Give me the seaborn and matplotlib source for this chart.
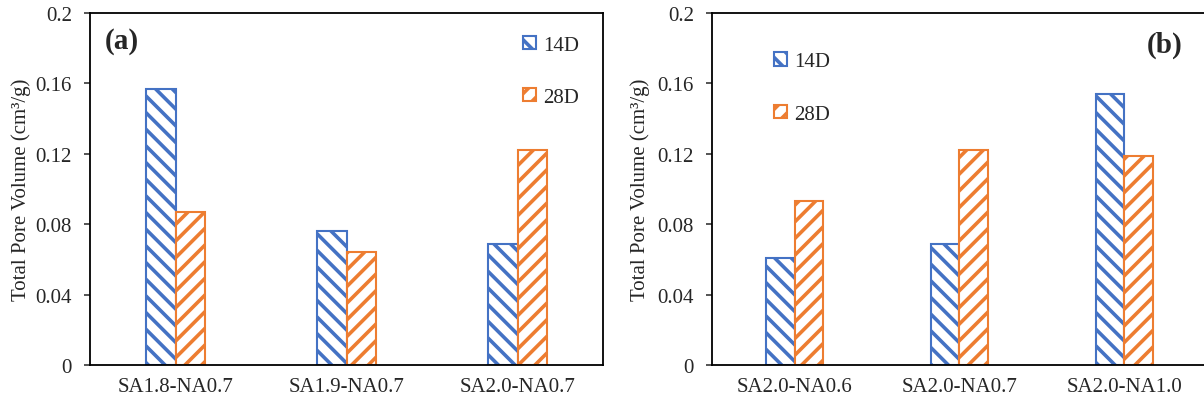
import matplotlib
matplotlib.use("Agg")
import matplotlib.pyplot as plt
import seaborn as sns
import pandas as pd

# ---- data ----
samples_a = ["SA1.8-NA0.7", "SA1.9-NA0.7", "SA2.0-NA0.7"]
d14_a = [0.157, 0.076, 0.069]
d28_a = [0.087, 0.064, 0.122]

samples_b = ["SA2.0-NA0.6", "SA2.0-NA0.7", "SA2.0-NA1.0"]
d14_b = [0.061, 0.069, 0.154]
d28_b = [0.093, 0.122, 0.119]

ages = ["14D", "28D"]
yticks = [0, 0.04, 0.08, 0.12, 0.16, 0.2]
ytick_labels = ["0", "0.04", "0.08", "0.12", "0.16", "0.2"]

BLUE = "#4472C4"
ORANGE = "#ED7D31"

sns.set_theme(style="white")
plt.rcParams["font.family"] = ["Liberation Serif", "DejaVu Serif"]
plt.rcParams["hatch.linewidth"] = 2.6


def make_df(samples, v14, v28):
    rows = []
    for s, a, b in zip(samples, v14, v28):
        rows.append({"sample": s, "age": ages[0], "value": a})
        rows.append({"sample": s, "age": ages[1], "value": b})
    return pd.DataFrame(rows)


fig = plt.figure(figsize=(12.04, 4.06), dpi=100)
ax_a = fig.add_axes([90 / 1204, 1 - 366 / 406, 513 / 1204, 352 / 406])
ax_b = fig.add_axes([712 / 1204, 1 - 366 / 406, 495 / 1204, 352 / 406])

panels = [
    (ax_a, make_df(samples_a, d14_a, d28_a), "(a)", (0.029, 0.923), (0.845, 0.935), -0.115),
    (ax_b, make_df(samples_b, d14_b, d28_b), "(b)", (0.879, 0.912), (0.126, 0.888), -0.125),
]

for ax, df, tag, tagpos, legpos, ylabx in panels:
    sns.barplot(data=df, x="sample", y="value", hue="age", hue_order=ages,
                palette=[BLUE, ORANGE], width=0.34, fill=False, gap=0,
                errorbar=None, legend=False, ax=ax)
    hatches = ["\\\\", "//"]
    cols = [BLUE, ORANGE]
    for cont, h, c in zip(ax.containers, hatches, cols):
        for p in cont.patches:
            p.set_facecolor("white")
            p.set_edgecolor(c)
            p.set_hatch(h)
            p.set_linewidth(1.5)
    ax.set_xlim(-0.5, 2.5)
    ax.set_ylim(0, 0.2)
    ax.set_yticks(yticks)
    ax.set_yticklabels(ytick_labels)
    ax.set_xlabel("")
    ax.set_ylabel("Total Pore Volume (cm³/g)", fontsize=15)
    ax.yaxis.set_label_coords(ylabx, 0.5)
    ax.tick_params(axis="y", direction="out", length=4.5, width=1.1,
                   labelsize=15, pad=8.5, left=True)
    ax.tick_params(axis="x", length=0, labelsize=15, pad=8.5)
    for sp in ax.spines.values():
        sp.set_visible(True)
        sp.set_color("black")
        sp.set_linewidth(1.3)
    ax.text(tagpos[0], tagpos[1], tag, transform=ax.transAxes, fontsize=21,
            fontweight="bold", ha="left", va="center")
    ax.legend(ax.containers, ages, loc="upper left", bbox_to_anchor=legpos,
              frameon=False, fontsize=15, handlelength=0.6, handleheight=0.6,
              handletextpad=0.35, labelspacing=1.6, borderpad=0, borderaxespad=0)

fig.savefig("out.png", dpi=100)
